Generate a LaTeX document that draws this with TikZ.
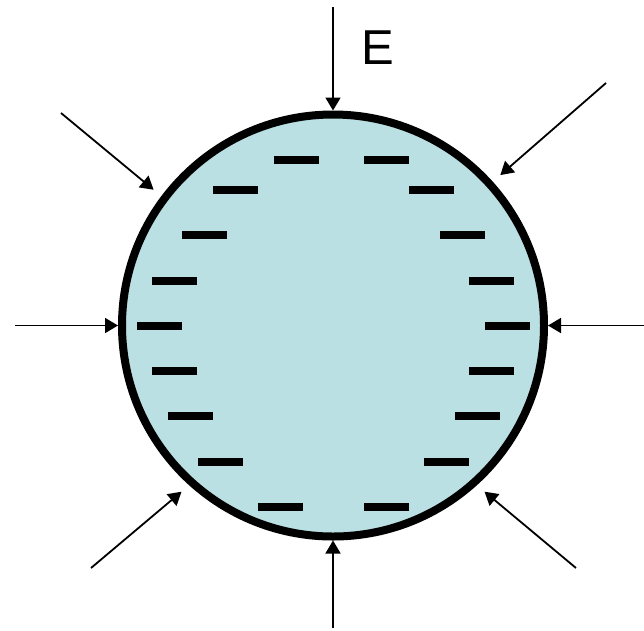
\documentclass[tikz,border=0pt]{standalone}
\usepackage{fontspec}
\setmainfont{Liberation Sans}
\usepackage{xcolor}
\usetikzlibrary{arrows.meta}
\definecolor{dropfill}{HTML}{BAE0E3}
\begin{document}
\begin{tikzpicture}[x=1pt, y=-1pt,
    field/.style={line width=1.8pt, -{Triangle[length=13pt,width=15pt]}},
    charge/.style={fill=black}]
  \useasboundingbox (0,0) rectangle (644,630);
  \node[circle, draw, line width=8pt, fill=dropfill, minimum size=422pt, inner sep=0pt] (drop) at (333,325.5) {};
  \foreach \x/\y in {296/160, 386/160, 235/190, 431/190, 204/235, 462/235,
                     174/281, 491/281, 159/326, 507/326, 174/371, 491/371,
                     190/416, 477/416, 220/462, 446/462, 280/507, 386/507}
    \fill[charge] (\x-22.5,\y-4) rectangle (\x+22.5,\y+4);
  \coordinate (top) at (333,7);
  \coordinate (bottom) at (333,628);
  \coordinate (left) at (15,325.5);
  \coordinate (right) at (644,325.5);
  \coordinate (upleft) at (61,113);
  \coordinate (upright) at (606,83);
  \coordinate (lowleft) at (91,568);
  \coordinate (lowright) at (576,568);
  \draw[field] (top) -- (drop.north);
  \draw[field] (bottom) -- (drop.south);
  \draw[field] (left) -- (drop.west);
  \draw[field] (right) -- (drop.east);
  \draw[field, shorten >=10pt] (upleft) -- (drop.143);
  \draw[field, shorten >=10pt] (upright) -- (drop.42);
  \draw[field, shorten >=10pt] (lowleft) -- (drop.228);
  \draw[field, shorten >=10pt] (lowright) -- (drop.312);
  \node[inner sep=0pt, font=\fontsize{49}{49}\selectfont] (elabel) at (377.5,47.5) {E};
\end{tikzpicture}
\end{document}
